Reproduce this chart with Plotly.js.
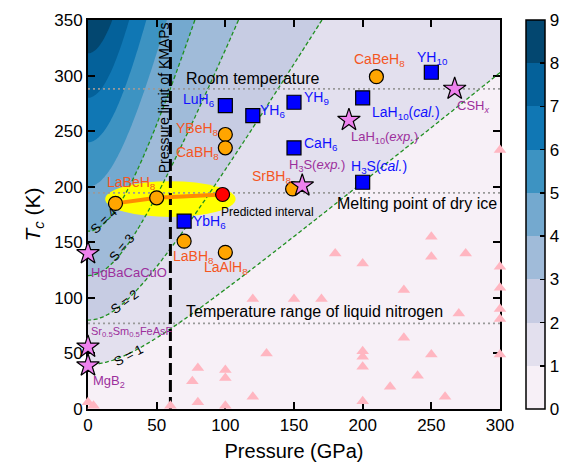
<!DOCTYPE html>
<html><head><meta charset="utf-8">
<script src="https://cdn.plot.ly/plotly-3.0.1.min.js"></script>
<style>html,body{margin:0;padding:0;background:#fff}</style>
</head><body><div id="chart" style="width:578px;height:468px"></div>
<script>
// ---------------- data ----------------
const sT0 = 40;
const sLevels = [1, 2, 3, 4];
const sLabels = ['S = 1', 'S = 2', 'S = 3', 'S = 4'];
const bandColors = ['#f7f0f7', '#e3e0ee', '#c7cce3', '#a0bbd9', '#74a9cf', '#3d93c2', '#1077b4', '#04619a', '#034770'];
const cbTicks = [0, 1, 2, 3, 4, 5, 6, 7, 8, 9];

const gridP = []; for (let p = 0; p <= 300; p += 2) gridP.push(p);
const gridTc = []; for (let t = 0; t <= 350; t += 2) gridTc.push(t);

// orange circles (hydrides)
const orangeNames = ['YBeH<sub>8</sub>', 'CaBH<sub>8</sub>', 'SrBH<sub>8</sub>', 'CaBeH<sub>8</sub>', 'LaBH<sub>8</sub>', 'LaAlH<sub>8</sub>'];
const orangeP  = [100, 100, 149, 210, 70, 100];
const orangeTc = [247, 235, 198, 299, 151, 141];

// LaBeH8 series (last point = predicted, red)
const labehName = 'LaBeH<sub>8</sub>';
const labehP  = [20, 50, 98];
const labehTc = [185, 190, 193];

// blue squares
const blueNames = ['LuH<sub>6</sub>', 'YH<sub>6</sub>', 'YH<sub>9</sub>', 'CaH<sub>6</sub>', 'YbH<sub>6</sub>', 'YH<sub>10</sub>', 'LaH<sub>10</sub>(<i>cal.</i>)', 'H<sub>3</sub>S(<i>cal.</i>)'];
const blueP  = [100, 120, 150, 150, 70, 250, 200, 200];
const blueTc = [273, 264, 276, 235, 169, 303, 280, 204];

// violet stars (experimental)
const starNames = ['LaH<sub>10</sub>(<i>exp.</i>)', 'CSH<sub><i>x</i></sub>', 'H<sub>3</sub>S(<i>exp.</i>)', 'HgBaCaCuO', 'Sr<sub>0.5</sub>Sm<sub>0.5</sub>FeAsF', 'MgB<sub>2</sub>'];
const starP  = [190, 267, 156, 0, 0, 0];
const starTc = [260, 288, 201, 140, 56, 39];

// pink triangles
const triP  = [0, 4, 60, 76, 80, 80, 100, 100, 100, 120, 130, 120, 150, 170, 180, 200, 200, 200, 200, 200, 220, 230, 230, 240, 250, 250, 250, 260, 270, 275, 300, 300, 300, 300, 300, 300];
const triTc = [6, 3, 3, 25, 37, 6, 35, 28, 3, 11, 50, 99, 99, 99, 140, 131, 52, 47, 38, 7, 20, 107, 64, 30, 155, 137, 49, 11, 86, 140, 233, 128, 109, 90, 81, 49];

// reference temperatures
const refTc = [288, 194.5, 77];
const refNames = ['Room temperature', 'Melting point of dry ice', 'Temperature range of liquid nitrogen'];
const kmapsLimit = 60;
const xTicks = [0, 50, 100, 150, 200, 250, 300];
const yTicks = [0, 50, 100, 150, 200, 250, 300, 350];

// ---------------- build ----------------
const zGrid = gridTc.map(t => gridP.map(p => t / Math.sqrt(sT0 * sT0 + p * p)));
const cscale = [];
bandColors.forEach((c, i) => { cscale.push([i / 9, c]); cscale.push([(i + 1) / 9, c]); });

const FONT = 'Liberation Sans, Arial, sans-serif';
const pRange = [xTicks[0], xTicks[xTicks.length - 1]];
const tRange = [yTicks[0], yTicks[yTicks.length - 1]];

const traces = [
  { type: 'contour', x: gridP, y: gridTc, z: zGrid, xaxis: 'x', yaxis: 'y',
    zmin: 0, zmax: 9, zauto: false,
    contours: { start: 0, end: 9, size: 1, coloring: 'fill', showlines: false },
    line: { width: 0 }, colorscale: cscale, hoverinfo: 'skip',
    colorbar: { x: 1.064, xanchor: 'left', xpad: 0, ypad: 0, y: 0.5, yanchor: 'middle', len: 1, lenmode: 'fraction',
      thickness: 19, outlinewidth: 1.5, outlinecolor: 'black', tickvals: cbTicks, ticks: 'inside', ticklen: 5,
      tickwidth: 1.5, tickcolor: 'black', tickfont: { size: 17, family: FONT, color: 'black' } } },
  { type: 'contour', x: gridP, y: gridTc, z: zGrid, xaxis: 'x2', yaxis: 'y2', showscale: false,
    contours: { start: sLevels[0], end: sLevels[sLevels.length - 1], size: 1, coloring: 'none' },
    line: { color: '#1f8f1f', width: 1.3, dash: '4px,2.5px' }, hoverinfo: 'skip' }
];
refTc.forEach(t => traces.push({ type: 'scatter', mode: 'lines', x: pRange, y: [t, t], xaxis: 'x2', yaxis: 'y2',
  line: { color: '#999999', width: 1.6, dash: '2px,3px' }, hoverinfo: 'skip' }));
traces.push({ type: 'scatter', mode: 'lines', x: [kmapsLimit, kmapsLimit], y: tRange, xaxis: 'x2', yaxis: 'y2',
  line: { color: 'black', width: 3, dash: '12px,5px' }, hoverinfo: 'skip' });
traces.push({ type: 'scatter', mode: 'markers', x: triP, y: triTc, xaxis: 'x2', yaxis: 'y2', cliponaxis: false,
  marker: { symbol: 'triangle-up', size: 11, color: '#ffb6c1', line: { width: 0 } } });
traces.push({ type: 'scatter', mode: 'lines', x: labehP, y: labehTc, xaxis: 'x2', yaxis: 'y2',
  line: { color: '#ff8c00', width: 4 } });
traces.push({ type: 'scatter', mode: 'markers', x: labehP, y: labehTc, xaxis: 'x2', yaxis: 'y2', cliponaxis: false,
  marker: { symbol: 'circle', size: 14, color: labehP.map((p, i) => i === labehP.length - 1 ? '#ff0000' : '#ffa500'), line: { color: 'black', width: 1.2 } } });
traces.push({ type: 'scatter', mode: 'markers', x: orangeP, y: orangeTc, xaxis: 'x2', yaxis: 'y2', cliponaxis: false,
  marker: { symbol: 'circle', size: 14, color: '#ffa500', line: { color: 'black', width: 1.2 } } });
traces.push({ type: 'scatter', mode: 'markers', x: blueP, y: blueTc, xaxis: 'x2', yaxis: 'y2', cliponaxis: false,
  marker: { symbol: 'square', size: 14, color: '#0000ff', line: { color: 'black', width: 1.2 } } });
traces.push({ type: 'scatter', mode: 'markers', x: starP, y: starTc, xaxis: 'x2', yaxis: 'y2', cliponaxis: false,
  marker: { symbol: 'star', size: 17, color: '#ee82ee', line: { color: 'black', width: 1.2 } } });

// ---------------- annotations ----------------
const ORANGE = '#f4561f', BLUE = '#1010ff', PURPLE = '#9c2f9c';
const ann = [];
function lab(text, x, y, color, size, xanchor, extra) {
  ann.push(Object.assign({ text: text, x: x, y: y, xref: 'x', yref: 'y', showarrow: false,
    xanchor: xanchor || 'center', yanchor: 'middle', font: { family: FONT, size: size, color: color } }, extra || {}));
}
// orange
lab(labehName, 31.4, 203, ORANGE, 14);
lab(orangeNames[0], 80, 252, ORANGE, 14);
lab(orangeNames[1], 79.8, 230, ORANGE, 14);
lab(orangeNames[2], 133.3, 209, ORANGE, 14);
lab(orangeNames[3], 212, 314, ORANGE, 14);
lab(orangeNames[4], 77, 136.4, ORANGE, 14);
lab(orangeNames[5], 100.6, 126.5, ORANGE, 14);
// blue
lab(blueNames[0], 81, 278, BLUE, 14);
lab(blueNames[1], 134, 268, BLUE, 14);
lab(blueNames[2], 155.5, 280, BLUE, 14, 'left');
lab(blueNames[3], 155.7, 238.4, BLUE, 14, 'left');
lab(blueNames[4], 75, 168, BLUE, 14, 'left');
lab(blueNames[5], 251, 316, BLUE, 14);
lab(blueNames[6], 205.7, 266, BLUE, 14, 'left');
lab(blueNames[7], 190, 218, BLUE, 14, 'left');
// purple
lab(starNames[0], 190, 244.4, PURPLE, 13, 'left');
lab(starNames[1], 267, 272, PURPLE, 13, 'left');
lab(starNames[2], 145.2, 219, PURPLE, 13, 'left');
lab(starNames[3], 0.7, 123, PURPLE, 13, 'left');
lab(starNames[4], 0.7, 69, PURPLE, 11, 'left');
lab(starNames[5], 2, 25, PURPLE, 13, 'left');
// reference lines
lab(refNames[0], 70, 297.3, 'black', 16, 'left');
lab(refNames[1], 179.6, 184.6, 'black', 16, 'left');
lab(refNames[2], 70, 87.3, 'black', 16, 'left');
lab('Predicted interval', 95.3, 177, 'black', 12, 'left');
lab('Pressure limit of KMAPs', 55, 280, 'black', 14, 'center', { textangle: -90 });
// S labels
lab(sLabels[0], 29.2, 48.5, 'black', 13, 'center', { textangle: -28 });
lab(sLabels[1], 26.9, 97, 'black', 13, 'center', { textangle: -37 });
lab(sLabels[2], 24.5, 145.6, 'black', 13, 'center', { textangle: -50 });
lab(sLabels[3], 11.4, 170, 'black', 13, 'center', { textangle: -44 });

const axCommon = { showgrid: false, zeroline: false, showline: true, linewidth: 2, linecolor: 'black',
  mirror: 'ticks', ticks: 'inside', ticklen: 7, tickwidth: 2, tickcolor: 'black',
  tickfont: { family: FONT, size: 17, color: 'black' } };

const layout = {
  width: 578, height: 468,
  margin: { l: 88, r: 70, t: 19.5, b: 58.5 },
  paper_bgcolor: 'white', plot_bgcolor: 'rgba(0,0,0,0)',
  font: { family: FONT, color: 'black' },
  showlegend: false,
  xaxis: Object.assign({}, axCommon, { range: pRange, tickvals: xTicks, domain: [0, 1],
    title: { text: 'Pressure (GPa)', font: { family: FONT, size: 20 }, standoff: 10 } }),
  yaxis: Object.assign({}, axCommon, { range: tRange, tickvals: yTicks, domain: [0, 1],
    title: { text: '<i>T</i><sub><i>c</i></sub> (K)', font: { family: FONT, size: 21 }, standoff: 8 } }),
  xaxis2: { range: pRange, domain: [0, 1], anchor: 'y2', visible: false },
  yaxis2: { range: tRange, domain: [0, 1], anchor: 'x2', visible: false },
  shapes: [{ type: 'circle', xref: 'x2', yref: 'y2', layer: 'below',
    x0: labehP[0] - 7.5, x1: labehP[labehP.length - 1] + 9.5, y0: 172.8, y1: 205,
    fillcolor: '#ffff00', line: { width: 0 } }],
  annotations: ann
};

Plotly.newPlot('chart', traces, layout, { staticPlot: true, displayModeBar: false });
</script></body></html>
